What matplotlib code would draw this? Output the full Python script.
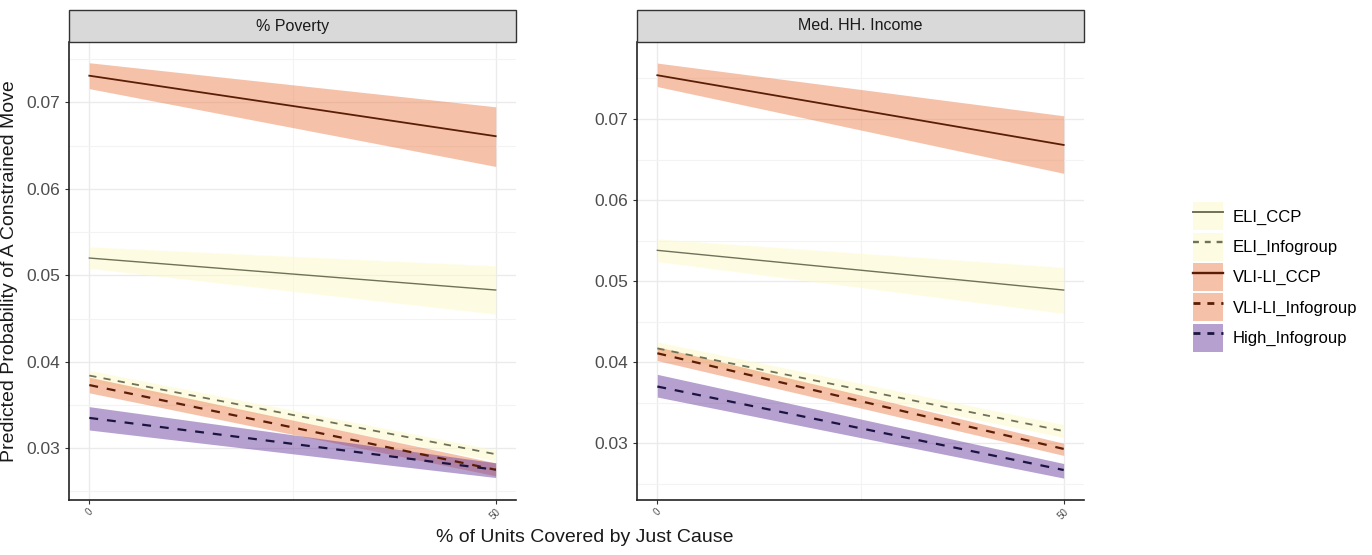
"""Predicted probability of a constrained move, faceted by neighbourhood measure."""

import matplotlib
matplotlib.use("Agg")
import matplotlib.pyplot as plt
import matplotlib.patches as mpatches
from matplotlib.lines import Line2D
from matplotlib.legend_handler import HandlerTuple
from matplotlib.ticker import MultipleLocator

plt.rcParams.update({
    'font.family': ['Liberation Sans', 'DejaVu Sans'],
})

x_vals = [0, 50]
panels = ['% Poverty', 'Med. HH. Income']
series = ['ELI_CCP', 'ELI_Infogroup', 'VLI-LI_CCP', 'VLI-LI_Infogroup', 'High_Infogroup']

# fitted values and ribbon bounds at x = 0 and x = 50
poverty_fit = {
    'ELI_CCP': [0.0520, 0.0483],
    'ELI_Infogroup': [0.0384, 0.0293],
    'VLI-LI_CCP': [0.0731, 0.0661],
    'VLI-LI_Infogroup': [0.0373, 0.0275],
    'High_Infogroup': [0.0335, 0.0275],
}
poverty_lo = {
    'ELI_CCP': [0.0508, 0.0455],
    'ELI_Infogroup': [0.0378, 0.0285],
    'VLI-LI_CCP': [0.0716, 0.0626],
    'VLI-LI_Infogroup': [0.0364, 0.0268],
    'High_Infogroup': [0.0321, 0.0266],
}
poverty_hi = {
    'ELI_CCP': [0.0533, 0.0511],
    'ELI_Infogroup': [0.0390, 0.0298],
    'VLI-LI_CCP': [0.0746, 0.0695],
    'VLI-LI_Infogroup': [0.0382, 0.0283],
    'High_Infogroup': [0.0348, 0.0283],
}
income_fit = {
    'ELI_CCP': [0.0538, 0.0489],
    'ELI_Infogroup': [0.0417, 0.0315],
    'VLI-LI_CCP': [0.0754, 0.0668],
    'VLI-LI_Infogroup': [0.0411, 0.0293],
    'High_Infogroup': [0.0370, 0.0267],
}
income_lo = {
    'ELI_CCP': [0.0524, 0.0460],
    'ELI_Infogroup': [0.0410, 0.0307],
    'VLI-LI_CCP': [0.0740, 0.0633],
    'VLI-LI_Infogroup': [0.0402, 0.0285],
    'High_Infogroup': [0.0357, 0.0257],
}
income_hi = {
    'ELI_CCP': [0.0552, 0.0517],
    'ELI_Infogroup': [0.0425, 0.0323],
    'VLI-LI_CCP': [0.0769, 0.0704],
    'VLI-LI_Infogroup': [0.0419, 0.0300],
    'High_Infogroup': [0.0385, 0.0275],
}

FILL = {
    'ELI_CCP': '#FDFBC9',
    'ELI_Infogroup': '#FDFBC9',
    'VLI-LI_CCP': '#EC8454',
    'VLI-LI_Infogroup': '#EC8454',
    'High_Infogroup': '#6D43A0',
}
LINE = {
    'ELI_CCP': '#6f7258',
    'ELI_Infogroup': '#6f7258',
    'VLI-LI_CCP': '#5a1d05',
    'VLI-LI_Infogroup': '#5a1d05',
    'High_Infogroup': '#1c1440',
}
STYLE = {
    'ELI_CCP': '-',
    'ELI_Infogroup': (0, (4, 4)),
    'VLI-LI_CCP': '-',
    'VLI-LI_Infogroup': (0, (4, 4)),
    'High_Infogroup': (0, (4, 4)),
}
WIDTH = {
    'ELI_CCP': 1.0,
    'ELI_Infogroup': 1.3,
    'VLI-LI_CCP': 1.3,
    'VLI-LI_Infogroup': 1.6,
    'High_Infogroup': 1.6,
}
ALPHA = 0.5

W, H = 1372, 555
fig = plt.figure(figsize=(W / 100, H / 100), dpi=100)

boxes = [(69, 516), (637, 1084)]
ylims = [(0.0240, 0.0770), (0.0230, 0.0795)]
data = [(poverty_fit, poverty_lo, poverty_hi), (income_fit, income_lo, income_hi)]

top, bottom = 42, 500
for (x0, x1), title, ylim, (fit, lo, hi) in zip(boxes, panels, ylims, data):
    ax = fig.add_axes([x0 / W, 1 - bottom / H, (x1 - x0) / W, (bottom - top) / H])
    for s in series:
        ax.fill_between(x_vals, lo[s], hi[s], color=FILL[s], alpha=ALPHA, linewidth=0)
    for s in series:
        ax.plot(x_vals, fit[s], color=LINE[s], linestyle=STYLE[s], linewidth=WIDTH[s])

    ax.set_xlim(-2.5, 52.5)
    ax.set_ylim(*ylim)
    ax.set_xticks(x_vals)
    ax.set_xticklabels(['0', '50'], rotation=45, fontsize=7, color='#4d4d4d')
    ax.xaxis.set_minor_locator(MultipleLocator(25))
    ax.yaxis.set_major_locator(MultipleLocator(0.01))
    ax.yaxis.set_minor_locator(MultipleLocator(0.005))
    ax.yaxis.set_major_formatter(matplotlib.ticker.FormatStrFormatter('%.2f'))
    ax.tick_params(axis='y', labelsize=12.5, labelcolor='#4d4d4d', length=3, color='#333333')
    ax.tick_params(axis='x', length=3, color='#333333', pad=2)
    ax.tick_params(which='minor', length=0)
    ax.grid(True, which='major', color='#ebebeb', linewidth=1.0)
    ax.grid(True, which='minor', color='#f3f3f3', linewidth=0.8)
    ax.set_axisbelow(True)
    for side in ['top', 'right']:
        ax.spines[side].set_visible(False)
    for side in ['left', 'bottom']:
        ax.spines[side].set_color('#222222')
        ax.spines[side].set_linewidth(1.2)

    # facet strip
    strip = mpatches.Rectangle((x0 / W, 1 - top / H), (x1 - x0) / W, 32 / H,
                               transform=fig.transFigure, facecolor='#d9d9d9',
                               edgecolor='#333333', linewidth=1.0)
    fig.add_artist(strip)
    fig.text((x0 + x1) / 2 / W, 1 - 26 / H, title, ha='center', va='center',
             fontsize=11.5, color='#1a1a1a')

    if title == panels[0]:
        ax.set_ylabel('Predicted Probability of A Constrained Move', fontsize=14,
                      color='#1a1a1a', labelpad=6)

fig.text(585 / W, 1 - 538 / H, '% of Units Covered by Just Cause', ha='center',
         va='center', fontsize=14, color='#1a1a1a')

handles = []
for s in series:
    patch = mpatches.Patch(facecolor=FILL[s], alpha=ALPHA, edgecolor='none')
    line = Line2D([], [], color=LINE[s], linestyle=(0, (2.5, 2.5)) if STYLE[s] != '-' else '-',
                  linewidth=WIDTH[s] + 0.4)
    handles.append((patch, line))
fig.legend(handles, series, loc='center left', bbox_to_anchor=(1186 / W, 1 - 277 / H),
           frameon=False, fontsize=12, handlelength=1.8, handleheight=2.2,
           handletextpad=0.6, labelspacing=0.15, borderaxespad=0,
           handler_map={tuple: HandlerTuple(ndivide=1, pad=0)})

fig.savefig('out.png', dpi=100)
